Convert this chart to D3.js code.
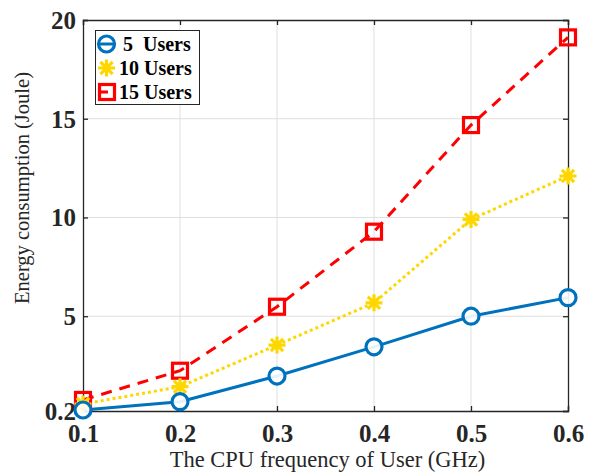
<!DOCTYPE html>
<html><head><meta charset="utf-8">
<script src="https://cdn.jsdelivr.net/npm/d3@7/dist/d3.min.js"></script>
<style>body{margin:0;background:#fff;}svg{display:block;}</style>
</head><body>
<svg id="c" width="590" height="475"></svg>
<script>
const freq = [0.1, 0.2, 0.3, 0.4, 0.5, 0.6];
const users5 = [0.25, 0.67, 1.97, 3.45, 5.0, 5.94];
const users10 = [0.55, 1.43, 3.54, 5.68, 9.9, 12.1];
const users15 = [0.76, 2.24, 5.48, 9.28, 14.68, 19.12];
const xTicks = [0.1, 0.2, 0.3, 0.4, 0.5, 0.6];
const yTicks = [0.2, 5, 10, 15, 20];
const seriesNames = ["5  Users", "10 Users", "15 Users"];

const svg = d3.select("#c");
const L = 83, R = 568, T = 20, B = 411;
const x = d3.scaleLinear().domain([0.1, 0.6]).range([L, R]);
const y = d3.scaleLinear().domain([0.2, 20]).range([B, T]);
const axisColor = "#262626";
const tickFont = "'Liberation Serif','Times New Roman',serif";

// grid
const g = svg.append("g");
g.selectAll(".gx").data(xTicks.slice(1, -1)).enter().append("line")
  .attr("x1", d => x(d)).attr("x2", d => x(d)).attr("y1", T).attr("y2", B)
  .attr("stroke", "#dfdfdf").attr("stroke-width", 1);
g.selectAll(".gy").data(yTicks.slice(1, -1)).enter().append("line")
  .attr("y1", d => y(d)).attr("y2", d => y(d)).attr("x1", L).attr("x2", R)
  .attr("stroke", "#dfdfdf").attr("stroke-width", 1);

// axes
const xAxis = d3.axisBottom(x).tickValues(xTicks).tickSize(-5).tickPadding(8).tickFormat(d3.format(".1f"));
const yAxis = d3.axisLeft(y).tickValues(yTicks).tickSize(-5).tickPadding(7).tickFormat(d => d === 0.2 ? "0.2" : d3.format("d")(d));
const xTop = d3.axisTop(x).tickValues(xTicks).tickSize(-5).tickFormat("");
const yRight = d3.axisRight(y).tickValues(yTicks).tickSize(-5).tickFormat("");

function styleAxis(sel) {
  sel.select(".domain").attr("stroke", axisColor).attr("stroke-width", 1.3);
  sel.selectAll(".tick line").attr("stroke", axisColor).attr("stroke-width", 1.3);
  sel.selectAll("text").attr("fill", "#262626").attr("font-family", tickFont)
    .attr("font-weight", "bold").attr("font-size", 25);
}
svg.append("g").attr("transform", `translate(0,${T})`).call(xTop).call(styleAxis);
svg.append("g").attr("transform", `translate(${R},0)`).call(yRight).call(styleAxis);
svg.append("g").attr("transform", `translate(0,${B})`).call(xAxis).call(styleAxis)
  .selectAll("text").attr("dy", "0.9em");
svg.append("g").attr("transform", `translate(${L},0)`).call(yAxis).call(styleAxis)
  .selectAll("text").attr("dy", "0.34em");

// axis labels
svg.append("text").attr("x", (L + R) / 2 + 2).attr("y", 467)
  .attr("text-anchor", "middle").attr("font-family", tickFont).attr("font-size", 22.5)
  .attr("fill", "#262626").text("The CPU frequency of User (GHz)");
svg.append("text").attr("transform", `translate(29,188) rotate(-90)`)
  .attr("text-anchor", "middle").attr("font-family", tickFont).attr("font-size", 20.5)
  .attr("fill", "#262626").text("Energy consumption (Joule)");

const line = d3.line().x((d, i) => x(freq[i])).y(d => y(d));

const blue = "#0072BD", yellow = "#FFD700", red = "#FF0000";

function star(sel, cx, cy, s) {
  const r = s;
  const d = `M${cx - r},${cy}L${cx + r},${cy}M${cx},${cy - r}L${cx},${cy + r}` +
    `M${cx - r * 0.72},${cy - r * 0.72}L${cx + r * 0.72},${cy + r * 0.72}` +
    `M${cx - r * 0.72},${cy + r * 0.72}L${cx + r * 0.72},${cy - r * 0.72}`;
  sel.append("path").attr("d", d).attr("stroke", yellow).attr("stroke-width", 3.2).attr("fill", "none");
}

// 15 users (red dashed)
svg.append("path").datum(users15).attr("d", line).attr("fill", "none")
  .attr("stroke", red).attr("stroke-width", 3).attr("stroke-dasharray", "11,8");
// 10 users (yellow dotted)
svg.append("path").datum(users10).attr("d", line).attr("fill", "none")
  .attr("stroke", yellow).attr("stroke-width", 3).attr("stroke-dasharray", "3,3");
// 5 users (blue solid)
svg.append("path").datum(users5).attr("d", line).attr("fill", "none")
  .attr("stroke", blue).attr("stroke-width", 3);

// markers
const mk = svg.append("g");
users15.forEach((v, i) => {
  mk.append("rect").attr("x", x(freq[i]) - 7.5).attr("y", y(v) - 7.5).attr("width", 15).attr("height", 15)
    .attr("fill", "none").attr("stroke", red).attr("stroke-width", 3.2);
});
users10.forEach((v, i) => star(mk, x(freq[i]), y(v), 8.5));
users5.forEach((v, i) => {
  mk.append("circle").attr("cx", x(freq[i])).attr("cy", y(v)).attr("r", 8)
    .attr("fill", "#fff").attr("fill-opacity", 0.9).attr("stroke", blue).attr("stroke-width", 3.2);
});

// legend
const lg = svg.append("g");
lg.append("rect").attr("x", 95.5).attr("y", 30.5).attr("width", 104).attr("height", 74)
  .attr("fill", "#fff").attr("stroke", axisColor).attr("stroke-width", 1);
const ly = [44, 68, 92];
lg.append("circle").attr("cx", 106.5).attr("cy", ly[0]).attr("r", 8).attr("fill", "none")
  .attr("stroke", blue).attr("stroke-width", 3.2);
lg.append("line").attr("x1", 98.5).attr("x2", 114.5).attr("y1", ly[0]).attr("y2", ly[0])
  .attr("stroke", blue).attr("stroke-width", 3);
star(lg, 106.5, ly[1], 8.5);
lg.append("rect").attr("x", 99.5).attr("y", ly[2] - 7.5).attr("width", 15).attr("height", 15)
  .attr("fill", "none").attr("stroke", red).attr("stroke-width", 3.2);
lg.append("line").attr("x1", 98.5).attr("x2", 108).attr("y1", ly[2]).attr("y2", ly[2])
  .attr("stroke", red).attr("stroke-width", 3);
const textX = [123, 119, 119];
seriesNames.forEach((n, i) => {
  lg.append("text").attr("x", textX[i]).attr("y", ly[i]).attr("dy", "0.34em")
    .attr("font-family", tickFont).attr("font-weight", "bold").attr("font-size", 20)
    .attr("fill", "#000").style("white-space", "pre").text(n);
});
</script>
</body></html>
